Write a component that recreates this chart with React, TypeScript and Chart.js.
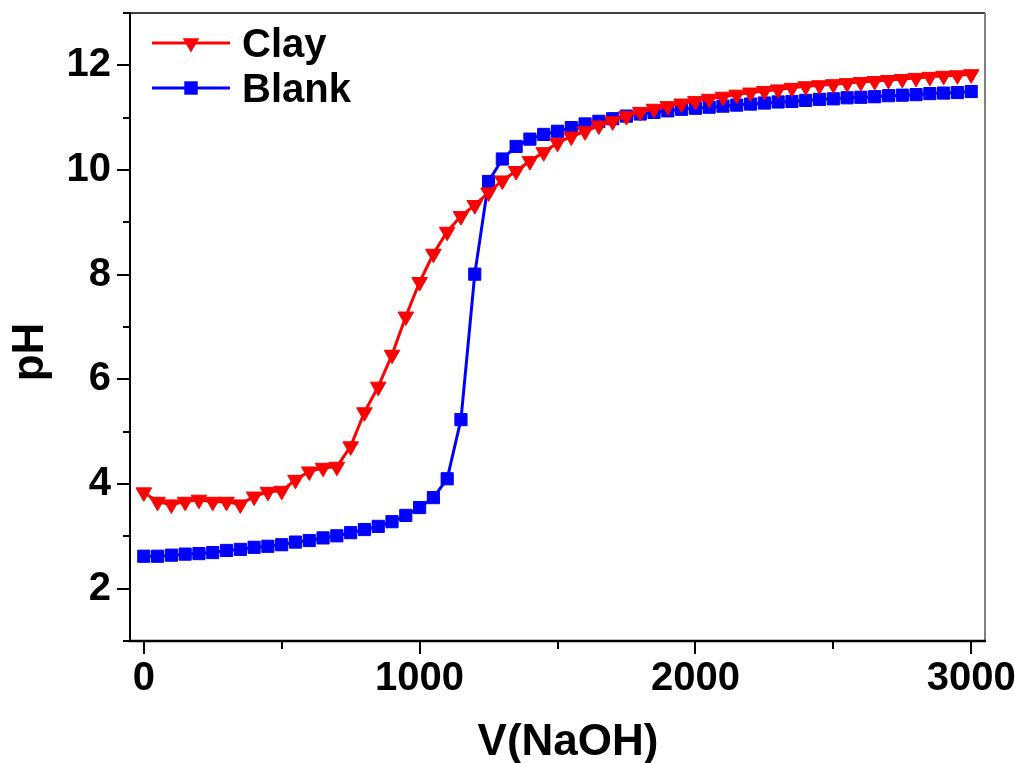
import React, { useEffect, useRef } from 'react';
import { Chart, registerables } from 'chart.js';

Chart.register(...registerables);

const volume = [
  0, 50, 100, 150, 200, 250, 300, 350, 400, 450,
  500, 550, 600, 650, 700, 750, 800, 850, 900, 950,
  1000, 1050, 1100, 1150, 1200, 1250, 1300, 1350, 1400, 1450,
  1500, 1550, 1600, 1650, 1700, 1750, 1800, 1850, 1900, 1950,
  2000, 2050, 2100, 2150, 2200, 2250, 2300, 2350, 2400, 2450,
  2500, 2550, 2600, 2650, 2700, 2750, 2800, 2850, 2900, 2950,
  3000,
];

const clayPH = [
  3.84, 3.66, 3.61, 3.66, 3.70, 3.66, 3.66, 3.61, 3.76, 3.85,
  3.87, 4.08, 4.24, 4.31, 4.33, 4.72, 5.37, 5.86, 6.47, 7.20,
  7.86, 8.40, 8.82, 9.12, 9.33, 9.57, 9.80, 9.98, 10.17, 10.34,
  10.52, 10.64, 10.74, 10.85, 10.93, 11.03, 11.11, 11.17, 11.22, 11.27,
  11.32, 11.36, 11.40, 11.44, 11.48, 11.51, 11.54, 11.57, 11.60, 11.62,
  11.64, 11.66, 11.68, 11.70, 11.72, 11.74, 11.76, 11.78, 11.80, 11.81,
  11.83,
];

const blankPH = [
  2.62, 2.62, 2.64, 2.66, 2.67, 2.69, 2.73, 2.75, 2.79, 2.81,
  2.84, 2.89, 2.92, 2.97, 3.01, 3.07, 3.13, 3.19, 3.28, 3.40,
  3.55, 3.74, 4.10, 5.23, 8.01, 9.78, 10.21, 10.45, 10.59, 10.68,
  10.74, 10.81, 10.88, 10.93, 10.98, 11.03, 11.07, 11.10, 11.13, 11.16,
  11.18, 11.20, 11.22, 11.24, 11.26, 11.28, 11.30, 11.31, 11.33, 11.35,
  11.36, 11.38, 11.39, 11.40, 11.42, 11.43, 11.44, 11.46, 11.47, 11.48,
  11.50,
];

const seriesNames = ['Clay', 'Blank'];
const seriesColors = ['#ff0000', '#0000ff'];
const xMajorTicks = [0, 1000, 2000, 3000];
const xMinorTicks = [500, 1500, 2500];
const yMajorTicks = [2, 4, 6, 8, 10, 12];
const yMinorTicks = [1, 3, 5, 7, 9, 11, 13];
const xTitle = 'V(NaOH)';
const yTitle = 'pH';

const FONT = '"Liberation Sans", Arial, Helvetica, sans-serif';

function drawMarker(ctx: CanvasRenderingContext2D, kind: string, x: number, y: number, r: number, color: string) {
  ctx.fillStyle = color;
  ctx.beginPath();
  if (kind === 'tri') {
    const w = Math.sin(Math.PI / 3) * r;
    ctx.moveTo(x, y + r);
    ctx.lineTo(x - w, y - r / 2);
    ctx.lineTo(x + w, y - r / 2);
    ctx.closePath();
  } else {
    const s = r * Math.SQRT1_2;
    ctx.rect(x - s, y - s, 2 * s, 2 * s);
  }
  ctx.fill();
}

export default function App() {
  const ref = useRef<HTMLCanvasElement>(null);

  useEffect(() => {
    if (!ref.current) return;

    const decor = {
      id: 'decor',
      afterDraw(chart: any) {
        const { ctx, chartArea: a, scales } = chart;
        const xs = scales.x;
        const ys = scales.y;
        ctx.save();
        ctx.lineCap = 'butt';

        // frame
        ctx.strokeStyle = '#000';
        ctx.lineWidth = 1.5;
        ctx.beginPath();
        ctx.moveTo(a.left, a.top);
        ctx.lineTo(a.right, a.top);
        ctx.stroke();
        ctx.strokeStyle = '#808080';
        ctx.lineWidth = 2;
        ctx.beginPath();
        ctx.moveTo(a.right, a.top);
        ctx.lineTo(a.right, a.bottom);
        ctx.stroke();
        ctx.strokeStyle = '#000';
        ctx.lineWidth = 2;
        ctx.beginPath();
        ctx.moveTo(a.left, a.top - 1);
        ctx.lineTo(a.left, a.bottom + 1);
        ctx.stroke();
        ctx.lineWidth = 2.5;
        ctx.beginPath();
        ctx.moveTo(a.left - 1, a.bottom);
        ctx.lineTo(a.right + 1, a.bottom);
        ctx.stroke();

        // ticks
        ctx.lineWidth = 2;
        ctx.strokeStyle = '#000';
        const ty = (v: number, len: number) => {
          const p = Math.round(ys.getPixelForValue(v));
          ctx.beginPath();
          ctx.moveTo(a.left - len, p);
          ctx.lineTo(a.left, p);
          ctx.stroke();
        };
        const tx = (v: number, len: number) => {
          const p = Math.round(xs.getPixelForValue(v));
          ctx.beginPath();
          ctx.moveTo(p, a.bottom);
          ctx.lineTo(p, a.bottom + len);
          ctx.stroke();
        };
        yMajorTicks.forEach((v) => ty(v, 13));
        yMinorTicks.forEach((v) => ty(v, 7));
        xMajorTicks.forEach((v) => tx(v, 13));
        xMinorTicks.forEach((v) => tx(v, 8));

        // legend
        const rows = [43, 88];
        const kinds = ['tri', 'rect'];
        ctx.font = `bold 40px ${FONT}`;
        ctx.textAlign = 'left';
        ctx.textBaseline = 'alphabetic';
        seriesNames.forEach((name, i) => {
          const yy = rows[i];
          ctx.strokeStyle = seriesColors[i];
          ctx.lineWidth = 3;
          ctx.beginPath();
          ctx.moveTo(152, yy);
          ctx.lineTo(230, yy);
          ctx.stroke();
          drawMarker(ctx, kinds[i], 191, yy, kinds[i] === 'tri' ? 9.5 : 9.5, seriesColors[i]);
          ctx.fillStyle = '#000';
          ctx.fillText(name, 242, yy + 14);
        });

        // axis titles
        ctx.fillStyle = '#000';
        ctx.font = `bold 44px ${FONT}`;
        ctx.textAlign = 'center';
        ctx.textBaseline = 'alphabetic';
        ctx.fillText(xTitle, 568, 755);
        ctx.translate(43, 352);
        ctx.rotate(-Math.PI / 2);
        ctx.fillText(yTitle, 0, 0);
        ctx.restore();
      },
    };

    const chart = new Chart(ref.current, {
      type: 'line',
      data: {
        datasets: [
          {
            label: seriesNames[0],
            data: volume.map((v, i) => ({ x: v, y: clayPH[i] })),
            borderColor: seriesColors[0],
            backgroundColor: seriesColors[0],
            borderWidth: 3,
            pointStyle: 'triangle',
            rotation: 180,
            pointRadius: 9,
            pointBorderWidth: 1,
            tension: 0,
          },
          {
            label: seriesNames[1],
            data: volume.map((v, i) => ({ x: v, y: blankPH[i] })),
            borderColor: seriesColors[1],
            backgroundColor: seriesColors[1],
            borderWidth: 3,
            pointStyle: 'rect',
            pointRadius: 8.6,
            pointBorderWidth: 1,
            tension: 0,
          },
        ],
      },
      options: {
        animation: false,
        responsive: false,
        events: [],
        layout: { padding: { top: 13, right: 30, left: 0, bottom: 0 } },
        plugins: {
          legend: { display: false },
          tooltip: { enabled: false },
          title: { display: false },
        },
        scales: {
          x: {
            type: 'linear',
            min: -50,
            max: 3050,
            border: { display: false },
            grid: { display: false, drawTicks: true, tickLength: 13 },
            afterBuildTicks: (s: any) => {
              s.ticks = xMajorTicks.map((v) => ({ value: v }));
            },
            ticks: {
              color: '#000',
              font: { family: FONT, size: 40, weight: 'bold' },
              padding: 1,
              maxRotation: 0,
              autoSkip: false,
              callback: (v: any) => String(v),
            },
            afterFit: (s: any) => {
              s.height = 122;
              s.paddingLeft = 0;
              s.paddingRight = 0;
            },
          },
          y: {
            type: 'linear',
            min: 1,
            max: 13,
            border: { display: false },
            grid: { display: false, drawTicks: true, tickLength: 13 },
            afterBuildTicks: (s: any) => {
              s.ticks = yMajorTicks.map((v) => ({ value: v }));
            },
            ticks: {
              color: '#000',
              font: { family: FONT, size: 40, weight: 'bold' },
              padding: 6,
              autoSkip: false,
              callback: (v: any) => String(v),
            },
            afterFit: (s: any) => {
              s.width = 130;
              s.paddingTop = 0;
              s.paddingBottom = 0;
            },
          },
        },
      },
      plugins: [decor],
    } as any);

    return () => chart.destroy();
  }, []);

  return (
    <div style={{ position: 'absolute', left: 0, top: 0, width: 1015, height: 763, background: '#fff' }}>
      <canvas ref={ref} width={1015} height={763} style={{ display: 'block' }} />
    </div>
  );
}
